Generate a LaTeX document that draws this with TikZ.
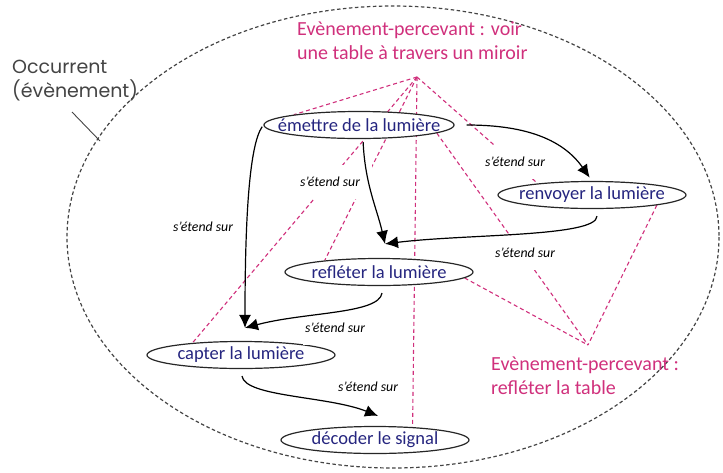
\documentclass[tikz,border=0pt]{standalone}
\usepackage{fontspec}
\setmainfont{Carlito}
\newfontfamily\gothic{Poppins}
\usetikzlibrary{shapes.geometric,arrows.meta,backgrounds}
\definecolor{Navy}{HTML}{25257F}
\definecolor{Magenta}{HTML}{D0307C}
\definecolor{Slate}{HTML}{444444}

\begin{document}
\begin{tikzpicture}[x=1pt,y=-1pt,
    evt/.style={ellipse,draw=black!85,line width=1.2pt,fill=white,minimum width=188pt,
                minimum height=27pt,inner xsep=-14pt,inner ysep=0pt,text=Navy,
                font=\fontsize{18.5}{22}\selectfont},
    sur/.style={fill=white,inner xsep=2pt,inner ysep=12pt,
                font=\fontsize{13.8}{16}\selectfont\itshape},
    pct/.style={text=Magenta,align=left,inner sep=0pt,font=\fontsize{20}{24}\selectfont},
    arrow/.style={-{Latex[length=13pt,width=12pt]},line width=1.2pt},
    link/.style={Magenta,line width=1.1pt,dash pattern=on 4pt off 3pt}
  ]
    \useasboundingbox (0,0) rectangle (723,472);
    \draw[Slate,line width=1.2pt,dash pattern=on 3.5pt off 2.5pt] (393,237) ellipse [x radius=326,y radius=231];
    \node[font=\gothic\fontsize{19}{24}\selectfont,text=Slate,align=left,inner sep=0pt,
          anchor=north west] (occ) at (12,60) {Occurrent\\(évènement)};
    \coordinate (tick) at (72,112);
    \coordinate (rim) at (100,141);
    \draw[Slate,line width=0.9pt] (tick) -- (rim);

    \node[evt] (emet) at (359,125) {émettre de la lumière};
    \node[evt] (renv) at (592,195) {renvoyer la lumière};
    \node[evt] (refl) at (379,272) {refléter la lumière};
    \node[evt] (capt) at (241,355) {capter la lumière};
    \node[evt] (deco) at (375,440) {décoder le signal};

    \node[pct,anchor=north west] (voirtxt) at (297,22) {Evènement-percevant : voir\\une table à travers un miroir};
    \node[pct,anchor=north west] (tabltxt) at (491,357) {Evènement-percevant :\\refléter la table};
    \coordinate (voir) at (417,77);
    \coordinate (tabl) at (588,345);

    \node[sur] (s1) at (515,162) {s’étend sur};
    \node[sur,inner xsep=12pt] (s2) at (330,182) {s’étend sur};
    \node[sur] (s3) at (203,227) {s’étend sur};
    \node[sur] (s4) at (525,253) {s’étend sur};
    \node[sur] (s5) at (335,328) {s’étend sur};
    \node[sur] (s6) at (368,387) {s’étend sur};

    \coordinate (reflin) at ([xshift=6pt,yshift=14pt]refl.north);
    \coordinate (captin) at ([xshift=4pt,yshift=13pt]capt.north);
    \coordinate (decoin) at ([xshift=3pt,yshift=10pt]deco.north);

    \draw[arrow,shorten <=12pt,shorten >=4pt] (emet.east) to[out=0,in=125] (renv.north);
    \draw[arrow,shorten <=3pt] ([xshift=4pt]emet.south) .. controls +(2,45) and +(-8,-35) .. (reflin);
    \draw[arrow,shorten <=7pt] ([xshift=5pt]renv.south) .. controls +(0,28) and +(80,-10) .. (reflin);
    \draw[arrow,shorten <=2pt] (emet.west) .. controls +(-14,20) and +(0,-110) .. (captin);
    \draw[arrow,shorten <=7pt] ([xshift=4pt]refl.south) .. controls +(-4,28) and +(60,-16) .. (captin);
    \draw[arrow,shorten <=7pt] (capt.south) .. controls +(4,28) and +(-50,-20) .. (decoin);

    \begin{pgfonlayer}{background}
      \draw[link] (voir) -- (emet.171);
      \draw[link] (voir) -- (capt.166);
      \draw[link] (voir) -- (refl.168);
      \draw[link] (voir) -- (deco.19);
      \draw[link] (voir) -- (renv.168);
      \draw[link] (emet.-6) -- (tabl);
      \draw[link] (refl.-4) -- (tabl);
      \draw[link] (renv.-9) -- (tabl);
    \end{pgfonlayer}
\end{tikzpicture}
\end{document}
